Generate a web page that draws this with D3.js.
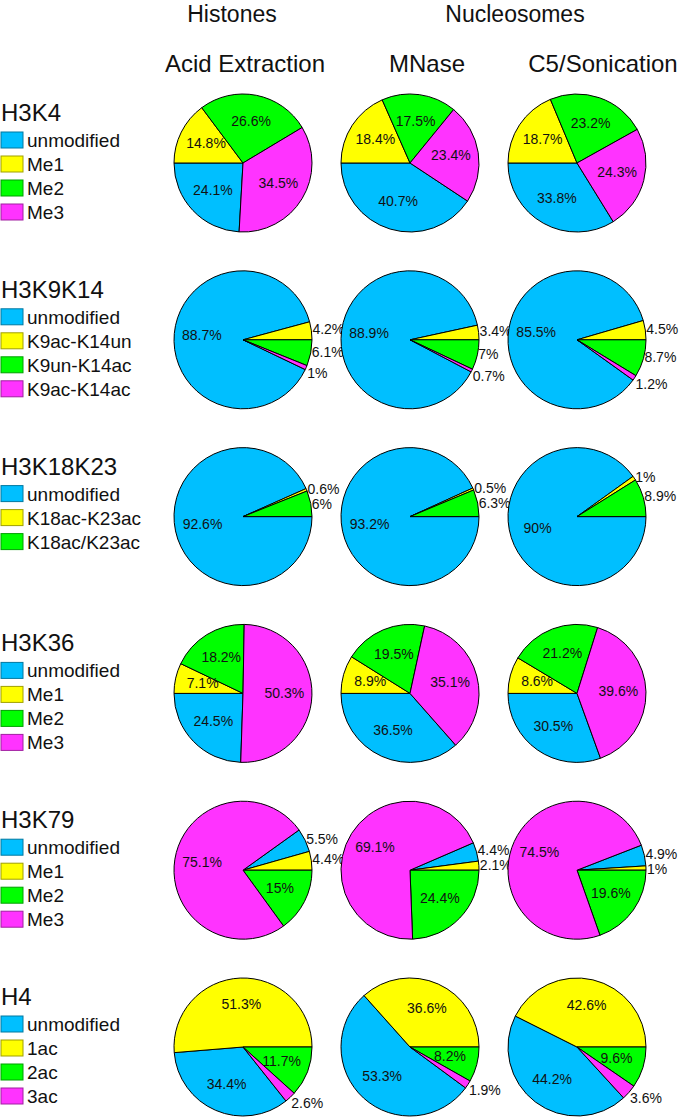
<!DOCTYPE html>
<html>
<head>
<meta charset="utf-8">
<script src="https://cdn.jsdelivr.net/npm/d3@7"></script>
<style>
  html, body { margin: 0; padding: 0; background: #fff; }
  svg { display: block; font-family: "Liberation Sans", Arial, sans-serif; }
</style>
</head>
<body>
<svg id="chart" width="700" height="1118"></svg>
<script>
// ---------- DATA ----------
const methodGroups = ["Histones", "Nucleosomes"];
const methods = ["Acid Extraction", "MNase", "C5/Sonication"];
const marks = ["H3K4", "H3K9K14", "H3K18K23", "H3K36", "H3K79", "H4"];

const catsH3K4 = ["unmodified", "Me1", "Me2", "Me3"];
const catsH3K9K14 = ["unmodified", "K9ac-K14un", "K9un-K14ac", "K9ac-K14ac"];
const catsH3K18K23 = ["unmodified", "K18ac-K23ac", "K18ac/K23ac"];
const catsH3K36 = ["unmodified", "Me1", "Me2", "Me3"];
const catsH3K79 = ["unmodified", "Me1", "Me2", "Me3"];
const catsH4 = ["unmodified", "1ac", "2ac", "3ac"];

// values per method: [Acid Extraction, MNase, C5/Sonication]
const valsH3K4 = [[24.1, 14.8, 26.6, 34.5], [40.7, 18.4, 17.5, 23.4], [33.8, 18.7, 23.2, 24.3]];
const valsH3K9K14 = [[88.7, 4.2, 6.1, 1], [88.9, 3.4, 7, 0.7], [85.5, 4.5, 8.7, 1.2]];
const valsH3K18K23 = [[92.6, 0.6, 6], [93.2, 0.5, 6.3], [90, 1, 8.9]];
const valsH3K36 = [[24.5, 7.1, 18.2, 50.3], [36.5, 8.9, 19.5, 35.1], [30.5, 8.6, 21.2, 39.6]];
const valsH3K79 = [[5.5, 4.4, 15, 75.1], [4.4, 2.1, 24.4, 69.1], [4.9, 1, 19.6, 74.5]];
const valsH4 = [[34.4, 51.3, 11.7, 2.6], [53.3, 36.6, 8.2, 1.9], [44.2, 42.6, 9.6, 3.6]];

const categories = [catsH3K4, catsH3K9K14, catsH3K18K23, catsH3K36, catsH3K79, catsH4];
const values = [valsH3K4, valsH3K9K14, valsH3K18K23, valsH3K36, valsH3K79, valsH4];

// ---------- STYLE / LAYOUT ----------
const colors = ["#00BFFF", "#FFFF00", "#00FF00", "#FF33FF"];
// slice index whose start boundary is pinned, and the pinned angle (deg, clockwise from 12 o'clock)
const anchors = [{i: 1, a: 270}, {i: 2, a: 90}, {i: 0, a: 90}, {i: 1, a: 270}, {i: 2, a: 90}, {i: 2, a: 90}];
// slices below this percentage get an outside label
const outsideBelow = [10, 10, 10, 6, 10, 5];

const svg = d3.select("#chart");
const R = 69;

const colX = d3.scalePoint().domain(methods).range([243, 577]);
const rowY = d3.scalePoint().domain(marks).range([163, 1047]);

// headers
const headerPos = {"Histones": 232, "Nucleosomes": 515};
svg.selectAll("text.grp").data(methodGroups).join("text")
  .attr("class", "grp")
  .attr("x", d => headerPos[d]).attr("y", 22)
  .attr("text-anchor", "middle").attr("font-size", 23).attr("fill", "#111")
  .text(d => d);

const methodLabelX = {"Acid Extraction": 245, "MNase": 427, "C5/Sonication": 603};
svg.selectAll("text.meth").data(methods).join("text")
  .attr("class", "meth")
  .attr("x", d => methodLabelX[d]).attr("y", 72)
  .attr("text-anchor", "middle").attr("font-size", 24).attr("fill", "#111")
  .text(d => d);

const arcGen = d3.arc().innerRadius(0).outerRadius(R);
const arcIn = d3.arc().innerRadius(R * 0.6).outerRadius(R * 0.6);
const arcOut = d3.arc().innerRadius(R).outerRadius(R);
const rad = Math.PI / 180;

marks.forEach((mark, gi) => {
  const cy = rowY(mark);
  const cats = categories[gi];

  // legend
  const lg = svg.append("g").attr("class", "legend");
  lg.append("text").attr("x", 1).attr("y", cy - 42)
    .attr("font-size", 24).attr("fill", "#111").text(mark);
  cats.forEach((c, ci) => {
    const top = cy - 31 + ci * 24;
    lg.append("rect").attr("x", 1).attr("y", top).attr("width", 22).attr("height", 16)
      .attr("fill", colors[ci]).attr("stroke", d3.color(colors[ci]).darker(1.3)).attr("stroke-width", 1);
    lg.append("text").attr("x", 27).attr("y", top + 15)
      .attr("font-size", 19).attr("fill", "#111").text(c);
  });

  // pies
  methods.forEach((m, mi) => {
    const vals = values[gi][mi];
    const total = d3.sum(vals);
    const anc = anchors[gi];
    const before = d3.sum(vals.slice(0, anc.i));
    const startDeg = anc.a - before / total * 360;
    const pie = d3.pie().sort(null).value(d => d)
      .startAngle(startDeg * rad).endAngle((startDeg + 360) * rad);
    const arcs = pie(vals);
    const g = svg.append("g").attr("transform", `translate(${colX(m)},${cy})`);

    g.selectAll("path").data(arcs).join("path")
      .attr("d", arcGen)
      .attr("fill", (d, i) => colors[i])
      .attr("stroke", "#000").attr("stroke-width", 1).attr("stroke-linejoin", "round");

    // label placement
    const labels = arcs.map(d => {
      let mid = ((d.startAngle + d.endAngle) / 2 / rad) % 360;
      if (mid < 0) mid += 360;
      if (d.data < outsideBelow[gi]) {
        const p = arcOut.centroid(d);
        const hang = mid >= 110;
        // centre line y of the label
        return {d, outside: true, x: p[0] + 1, y: hang ? p[1] + 7 : p[1], mid};
      }
      const p = arcIn.centroid(d);
      return {d, outside: false, x: p[0], y: p[1], mid};
    });
    // keep outside labels on the right from colliding
    const outs = labels.filter(l => l.outside).sort((a, b) => a.y - b.y);
    for (let k = 1; k < outs.length; k++) {
      if (outs[k].y < outs[k - 1].y + 15) outs[k].y = outs[k - 1].y + 15;
    }

    g.selectAll("text").data(labels).join("text")
      .attr("x", l => l.x).attr("y", l => l.y)
      .attr("text-anchor", l => l.outside ? "start" : "middle")
      .attr("dominant-baseline", "middle")
      .attr("font-size", 14).attr("fill", "#111")
      .text(l => l.d.data + "%");
  });
});
</script>
</body>
</html>
